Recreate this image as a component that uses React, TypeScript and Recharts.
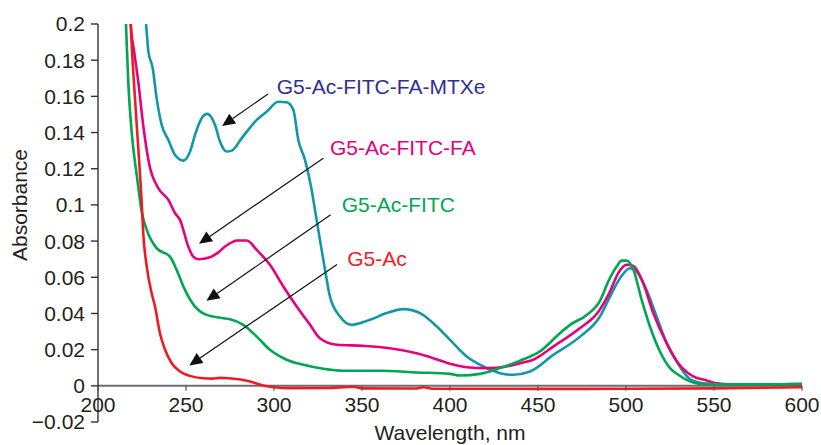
import React from "react";
import { LineChart, Line, XAxis, YAxis, ReferenceLine, ReferenceDot } from "recharts";

// wavelength (nm) / absorbance per sample
const mtxeNm = [226.8, 227.3, 228.6, 231.1, 233.3, 236.2, 240, 243.8, 248.5, 252.3, 255.1, 258.9, 262.1, 266.5, 269.3, 273, 276, 281.6, 290.2, 295.8, 302.5, 307.2, 311, 313.8, 317.6, 321.4, 323.3, 326.1, 329, 331.8, 337.5, 344.1, 354.5, 364, 373.5, 383, 390.5, 400, 409.5, 418.9, 428.4, 436, 445.5, 458.7, 473.9, 485.2, 490.9, 496.6, 502.3, 506, 511.7, 517.4, 523.1, 528.8, 536.4, 545, 551.5, 560, 580, 600];
const mtxeAbs = [0.205, 0.2, 0.185, 0.1755, 0.159, 0.1442, 0.1359, 0.1276, 0.1245, 0.1295, 0.1387, 0.1479, 0.1503, 0.1442, 0.135, 0.1295, 0.13, 0.1368, 0.147, 0.1515, 0.157, 0.1567, 0.1525, 0.1359, 0.1249, 0.1083, 0.0972, 0.0807, 0.0641, 0.0493, 0.0383, 0.0337, 0.0365, 0.0402, 0.0424, 0.0402, 0.0346, 0.0254, 0.0162, 0.0107, 0.007, 0.0061, 0.0079, 0.0171, 0.0272, 0.0383, 0.0493, 0.0595, 0.065, 0.0632, 0.053, 0.0383, 0.0236, 0.0134, 0.0037, 0.0012, 0.0005, 0.0005, 0.0008, 0.001];

const faNm = [218.4, 218.6, 220.5, 222.9, 225.7, 229.2, 234.3, 240, 243.8, 246.6, 251.3, 254, 257, 263.6, 268, 272.2, 276.9, 278.8, 284.5, 290.2, 297.7, 305.3, 312.9, 320.5, 326.1, 335.6, 350.7, 365.9, 381, 390.5, 400, 409.5, 420.8, 432.2, 439.8, 447.3, 458.7, 473.9, 484.3, 490.9, 495.6, 500.4, 504.2, 509.8, 515.5, 523.1, 529.7, 538.2, 545.8, 550.6, 560, 600];
const faAbs = [0.205, 0.2, 0.185, 0.168, 0.144, 0.1221, 0.1092, 0.1028, 0.0954, 0.0917, 0.077, 0.0715, 0.07, 0.0711, 0.0735, 0.077, 0.0797, 0.0803, 0.0803, 0.0751, 0.0669, 0.0549, 0.0438, 0.0337, 0.0263, 0.0227, 0.0221, 0.0208, 0.018, 0.0153, 0.0122, 0.0103, 0.0098, 0.0107, 0.0125, 0.0144, 0.0217, 0.0319, 0.041, 0.0521, 0.0623, 0.0669, 0.0663, 0.0567, 0.0402, 0.0236, 0.0125, 0.0052, 0.003, 0.0015, 0.0008, 0.0008];

const fitcNm = [215.7, 215.9, 217.2, 219.1, 222, 224.8, 227.7, 233.3, 240.9, 244.7, 249.4, 255.1, 261.8, 271.2, 275, 282.6, 290.2, 297.7, 307.2, 316.7, 328, 339.4, 360.2, 381, 400, 405.7, 417, 428.4, 439.8, 451.1, 462.5, 468.2, 477.7, 485.2, 489.9, 494.7, 497.5, 500.4, 504.2, 508.9, 513.6, 519.3, 525, 529.7, 535, 542, 560, 580, 600];
const fitcAbs = [0.205, 0.2, 0.168, 0.1405, 0.1166, 0.0963, 0.0862, 0.0761, 0.0714, 0.0641, 0.053, 0.0438, 0.0392, 0.0374, 0.0368, 0.0337, 0.0272, 0.0199, 0.0144, 0.0116, 0.0094, 0.0083, 0.0083, 0.0074, 0.0066, 0.0057, 0.0066, 0.0098, 0.0139, 0.019, 0.0291, 0.0337, 0.0392, 0.047, 0.0576, 0.0659, 0.0692, 0.0692, 0.0641, 0.0475, 0.0328, 0.019, 0.0098, 0.0061, 0.003, 0.0011, 0.0008, 0.0008, 0.0011];

const acNm = [218.4, 218.6, 221, 222.9, 224.8, 225.7, 227.7, 230.5, 232.4, 235.2, 238.1, 241.9, 246.6, 252.3, 259.8, 265, 269.3, 274, 280, 286.4, 293.9, 300, 309, 330, 345, 350, 380, 385, 390, 420, 450, 500, 550, 600];
const acAbs = [0.205, 0.2, 0.159, 0.1313, 0.1018, 0.0844, 0.0659, 0.0512, 0.0438, 0.0291, 0.0199, 0.0125, 0.0079, 0.0055, 0.0042, 0.004, 0.0044, 0.0042, 0.0036, 0.0024, 0.0002, -0.0008, -0.0013, -0.0012, -0.0005, -0.0014, -0.0015, -0.0008, -0.0016, -0.0016, -0.0017, -0.0016, -0.0014, -0.0008];

const xTicks = [200, 250, 300, 350, 400, 450, 500, 550, 600];
const yTicks = [-0.02, 0, 0.02, 0.04, 0.06, 0.08, 0.1, 0.12, 0.14, 0.16, 0.18, 0.2];
const yTickLabels = ["\u22120.02", "0", "0.02", "0.04", "0.06", "0.08", "0.1", "0.12", "0.14", "0.16", "0.18", "0.2"];

// annotation labels: name, colour, text anchor (nm, abs)
const labelNames = ["G5-Ac-FITC-FA-MTXe", "G5-Ac-FITC-FA", "G5-Ac-FITC", "G5-Ac"];
const labelColors = ["#2e3192", "#e5007e", "#00a651", "#ed1c24"];
const labelNm = [301.5, 331.8, 338.5, 341.6];
const labelAbs = [0.1614, 0.1276, 0.0963, 0.0663];

// arrows: tail -> tip
const arrowTailNm = [296.6, 328.0, 332.2, 335.8];
const arrowTailAbs = [0.1613, 0.1258, 0.0945, 0.0671];
const arrowTipNm = [270.5, 257.4, 261.6, 251.9];
const arrowTipAbs = [0.1436, 0.0785, 0.047, 0.0113];

const toPoints = (xs: number[], ys: number[]) => xs.map((x, i) => ({ x, y: ys[i] }));

const series = [
  { name: "G5-Ac-FITC-FA-MTXe", color: "#1297a6", data: toPoints(mtxeNm, mtxeAbs) },
  { name: "G5-Ac-FITC-FA", color: "#e6007e", data: toPoints(faNm, faAbs) },
  { name: "G5-Ac-FITC", color: "#00a651", data: toPoints(fitcNm, fitcAbs) },
  { name: "G5-Ac", color: "#ed1c24", data: toPoints(acNm, acAbs) },
];

const FONT = "'Liberation Sans', Arial, Helvetica, sans-serif";
const TEXT = "#231f20";
// pixel distance between plot bottom (-0.02) and the zero line
const ZERO_OFFSET = 398 * (0.02 / 0.22);

const XTick = ({ x, y, payload }: any) => {
  const zy = y - ZERO_OFFSET;
  return (
    <g>
      <line x1={x} x2={x} y1={zy} y2={zy + 5} stroke="#555" strokeWidth={1.2} />
      <text x={x} y={zy + 26.5} textAnchor="middle" fontSize={21} fill={TEXT} fontFamily={FONT}>
        {payload.value}
      </text>
    </g>
  );
};

const YLabel = () => (
  <text x={27} y={205} transform="rotate(-90, 27, 205)" textAnchor="middle" fontSize={21} fill={TEXT} fontFamily={FONT}>
    Absorbance
  </text>
);

const Arrow = ({ x1, y1, x2, y2 }: any) => {
  const dx = x2 - x1;
  const dy = y2 - y1;
  const len = Math.sqrt(dx * dx + dy * dy);
  const ux = dx / len;
  const uy = dy / len;
  const head = 13;
  const half = 6;
  const bx = x2 - ux * head;
  const by = y2 - uy * head;
  return (
    <g>
      <line x1={x1} y1={y1} x2={bx} y2={by} stroke="#111" strokeWidth={1.2} />
      <polygon
        points={`${x2},${y2} ${bx - uy * half},${by + ux * half} ${bx + uy * half},${by - ux * half}`}
        fill="#111"
      />
    </g>
  );
};

export default function App() {
  return (
    <div style={{ position: "absolute", left: 0, top: 0, background: "#fff", fontFamily: FONT }}>
      <LineChart width={821} height={445} margin={{ top: 24, right: 19, bottom: 0, left: 38 }}>
        <XAxis
          dataKey="x"
          type="number"
          domain={[200, 600]}
          ticks={xTicks}
          allowDataOverflow
          axisLine={false}
          tickLine={false}
          tickSize={0}
          tickMargin={0}
          height={23}
          tick={<XTick />}
          interval={0}
          label={{ value: "Wavelength, nm", position: "insideBottom", offset: 5.5, fontSize: 21, fill: TEXT }}
        />
        <YAxis
          dataKey="y"
          type="number"
          domain={[-0.02, 0.2]}
          ticks={yTicks}
          allowDataOverflow
          interval={0}
          width={60}
          tickSize={7}
          tickMargin={6}
          axisLine={{ stroke: "#333", strokeWidth: 1.4 }}
          tickLine={{ stroke: "#333", strokeWidth: 1.4 }}
          tick={{ fill: TEXT, fontSize: 21 }}
          tickFormatter={(v: number, i: number) => yTickLabels[i]}
          label={<YLabel />}
        />
        <ReferenceLine y={0} stroke="#6d6e71" strokeWidth={2} />
        {series.map((s) => (
          <Line
            key={s.name}
            data={s.data}
            dataKey="y"
            type="monotone"
            stroke={s.color}
            strokeWidth={2.6}
            dot={false}
            activeDot={false}
            isAnimationActive={false}
          />
        ))}
        {arrowTipNm.map((nm, i) => (
          <ReferenceLine
            key={"arrow" + i}
            segment={[
              { x: arrowTailNm[i], y: arrowTailAbs[i] },
              { x: nm, y: arrowTipAbs[i] },
            ]}
            shape={Arrow}
          />
        ))}
        {labelNames.map((name, i) => (
          <ReferenceDot
            key={name}
            x={labelNm[i]}
            y={labelAbs[i]}
            r={0}
            shape={(p: any) => (
              <text x={p.cx} y={p.cy} fontSize={21} fill={labelColors[i]} fontFamily={FONT}>
                {name}
              </text>
            )}
          />
        ))}
      </LineChart>
    </div>
  );
}
